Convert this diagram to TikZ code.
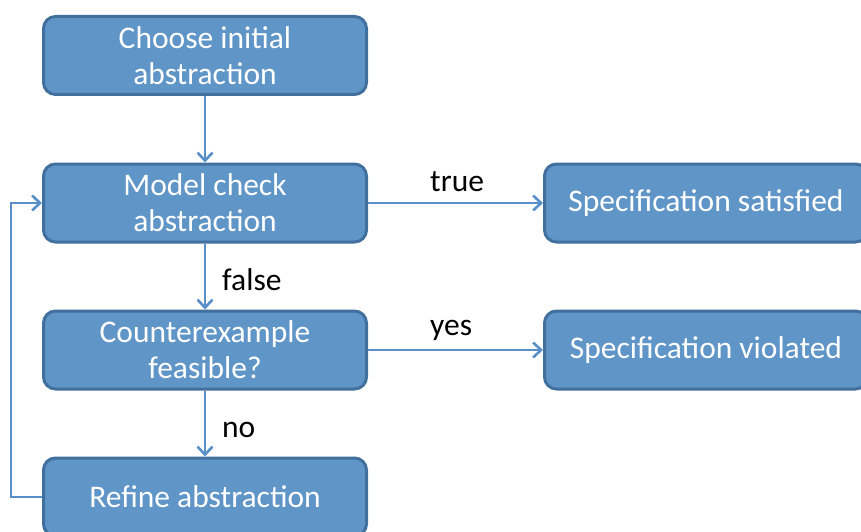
\documentclass[tikz,border=0pt]{standalone}
\usepackage{fontspec}
\setmainfont{Carlito}
\usetikzlibrary{arrows.meta}
\definecolor{boxfill}{RGB}{96,149,200}
\definecolor{boxline}{RGB}{66,112,158}
\definecolor{flow}{RGB}{88,143,200}
\begin{document}
\begin{tikzpicture}[x=1pt,y=-1pt,
  stepbox/.style={draw=boxline, fill=boxfill, line width=3pt, rounded corners=12pt,
    minimum width=323pt, minimum height=78pt, text=white,
    font=\fontsize{31.5}{36}\selectfont, align=center, inner sep=0pt},
  flowline/.style={draw=flow, line width=2.6pt, -{Straight Barb[length=8pt,width=15pt]}},
  lbl/.style={font=\fontsize{31.5}{36}\selectfont, text=black, inner sep=0pt, anchor=base west}]
\useasboundingbox (0,0) rectangle (861,532);
\clip (0,0) rectangle (861,532);

% process steps
\node[stepbox] (init)   at (205,55.5) {Choose initial\\abstraction};
\node[stepbox] (check)  at (205,203)  {Model check\\abstraction};
\node[stepbox] (cex)    at (205,350)  {Counterexample\\feasible?};
\node[stepbox] (refine) at (205,497)  {Refine abstraction};
\node[stepbox] (sat)    at (706,203)  {Specification satisfied};
\node[stepbox] (viol)   at (706,350)  {Specification violated};

% connectors
\draw[flowline] (init) -- (check);
\draw[flowline] (check) -- (sat);
\draw[flowline] (check) -- (cex);
\draw[flowline] (cex) -- (viol);
\draw[flowline] (cex) -- (refine);
\draw[flowline] (refine.west) -- ++(-31,0) |- (check.west);

% branch labels
\node[lbl] (ltrue)  at (430,191) {true};
\node[lbl] (lyes)   at (430,335) {yes};
\node[lbl] (lfalse) at (222,290) {false};
\node[lbl] (lno)    at (222,437) {no};
\end{tikzpicture}
\end{document}
